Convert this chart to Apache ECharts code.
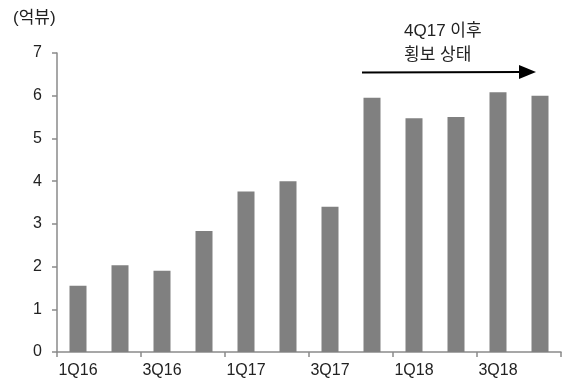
<!DOCTYPE html>
<html>
<head>
<meta charset="utf-8">
<script src="https://cdn.jsdelivr.net/npm/echarts@6/dist/echarts.min.js"></script>
<style>
  html, body { margin: 0; padding: 0; background: #fff; }
  #chart { width: 575px; height: 385px; }
</style>
</head>
<body>
<div id="chart"></div>
<script>
// Quarterly views (unit: 억뷰)
const quarters = ['1Q16', '2Q16', '3Q16', '4Q16', '1Q17', '2Q17', '3Q17', '4Q17', '1Q18', '2Q18', '3Q18', '4Q18'];
const views = [1.55, 2.03, 1.90, 2.83, 3.76, 4.00, 3.40, 5.95, 5.47, 5.50, 6.08, 6.00];
const yTicks = [0, 1, 2, 3, 4, 5, 6, 7];
const unitLabel = '(억뷰)';
const noteLines = ['4Q17 이후', '횡보 상태'];

const FONT = '"Liberation Sans", "Noto Sans CJK KR", sans-serif';
const chart = echarts.init(document.getElementById('chart'));

chart.setOption({
  animation: false,
  grid: { left: 57, right: 14, top: 53, bottom: 33 },
  xAxis: {
    type: 'category',
    data: quarters,
    boundaryGap: true,
    axisLine: { lineStyle: { color: '#8a8a8a', width: 1.5 } },
    axisTick: { show: true, interval: 1, length: 5, lineStyle: { color: '#8a8a8a', width: 1.5 } },
    axisLabel: { interval: 1, color: '#222', fontSize: 16, fontFamily: FONT, margin: 11 }
  },
  yAxis: {
    type: 'value',
    min: yTicks[0],
    max: yTicks[yTicks.length - 1],
    interval: 1,
    axisLine: { show: true, lineStyle: { color: '#8a8a8a', width: 1.5 } },
    axisTick: { show: true, length: 5, lineStyle: { color: '#8a8a8a', width: 1.5 } },
    splitLine: { show: false },
    axisLabel: { color: '#222', fontSize: 16, fontFamily: FONT, margin: 15 }
  },
  series: [{
    type: 'bar',
    data: views,
    barWidth: 17,
    itemStyle: { color: '#808080' }
  }],
  graphic: [
    {
      type: 'text',
      left: 13, top: 10,
      style: { text: unitLabel, fill: '#222', font: '17px ' + FONT }
    },
    {
      type: 'text',
      left: 404, top: 19,
      style: { text: noteLines.join('\n'), fill: '#222', font: '17px ' + FONT, lineHeight: 24, align: 'left' }
    },
    {
      type: 'line',
      shape: { x1: 362, y1: 72.5, x2: 522, y2: 72 },
      style: { stroke: '#000', lineWidth: 2 }
    },
    {
      type: 'polygon',
      shape: { points: [[519, 65], [536, 72], [519, 79]] },
      style: { fill: '#000' }
    }
  ]
});
</script>
</body>
</html>
